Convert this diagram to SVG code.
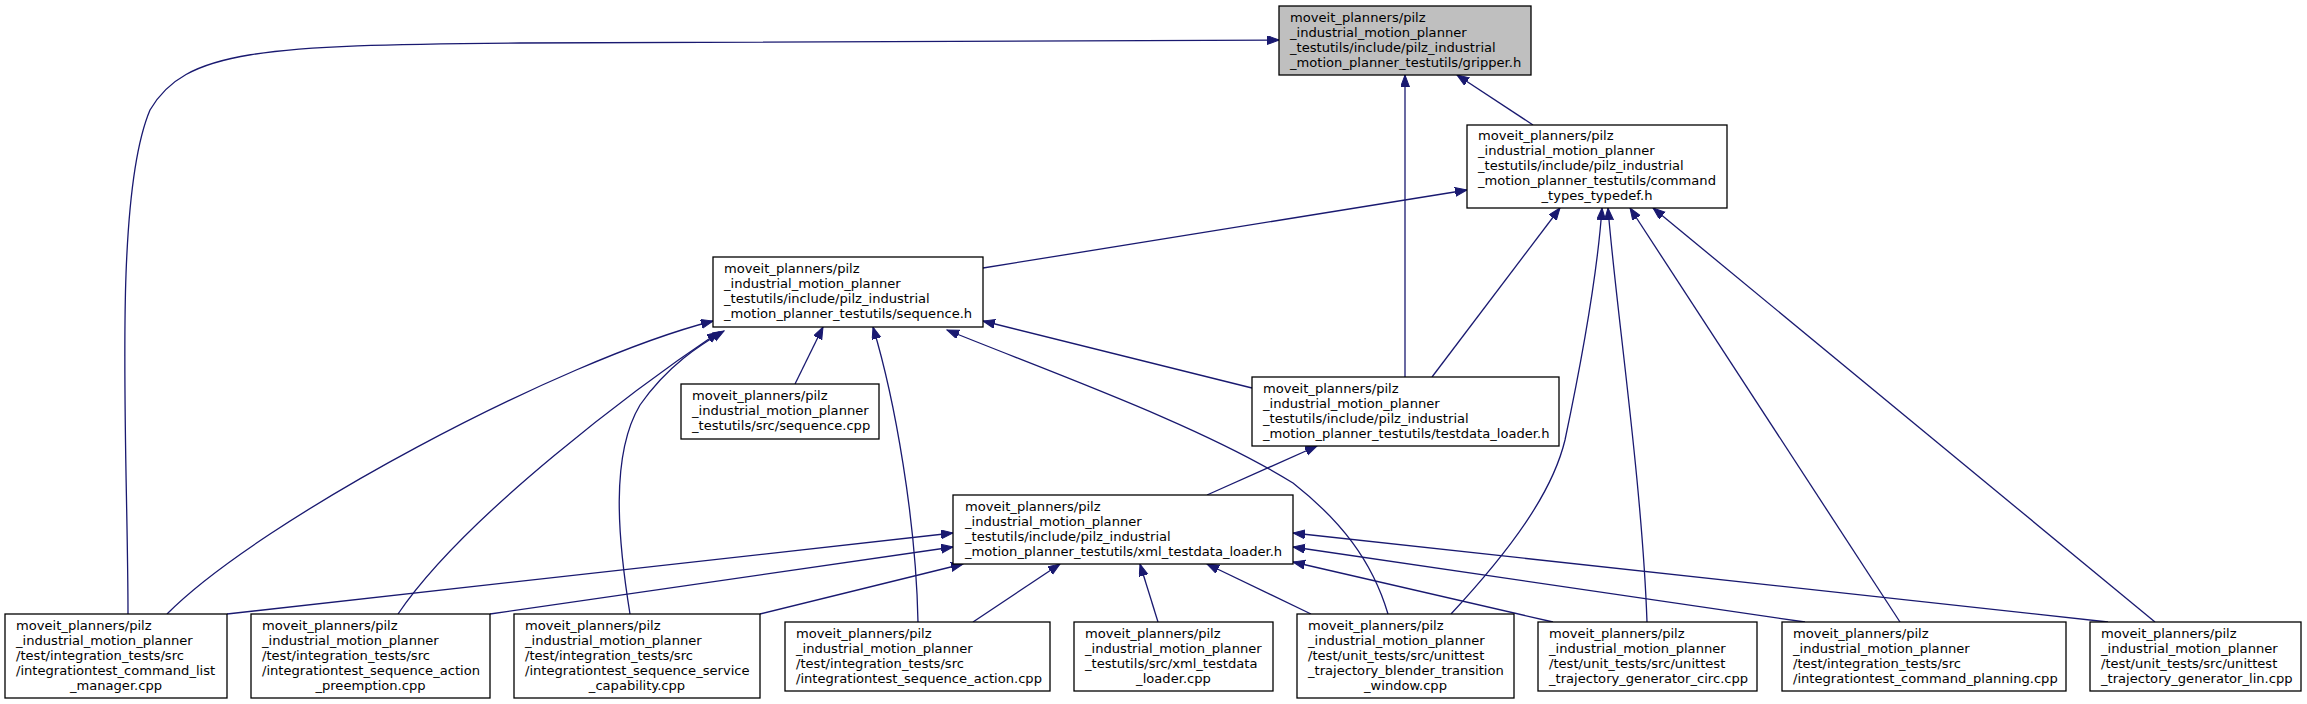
<svg xmlns="http://www.w3.org/2000/svg" width="2307" height="704" viewBox="0 0 2307 704">
<style>
.n rect{fill:#ffffff;stroke:#000000;stroke-width:1.3}
.n.g rect{fill:#bfbfbf}
.n text{font-family:"DejaVu Sans","Liberation Sans",sans-serif;font-size:13.1px;fill:#000000}
.c{text-anchor:middle}
#edges path{fill:none;stroke:#191970;stroke-width:1.3;marker-end:url(#ah)}
</style>
<defs>
<marker id="ah" markerWidth="13" markerHeight="10" refX="12" refY="4.5" orient="auto" markerUnits="userSpaceOnUse"><path d="M0,0 L12,4.5 L0,9 z" fill="#191970" stroke="#191970" stroke-width="1"/></marker>
</defs>
<rect width="2307" height="704" fill="#ffffff"/>
<g id="edges">
<path d="M128,614 C128,450 112,200 150,110 C185,50 260,45 520,43 L1279,40"/>
<path d="M1405,377 L1405,75"/>
<path d="M1533,125 L1457,75"/>
<path d="M983,268 L1467,190"/>
<path d="M1432,377 L1560,208"/>
<path d="M1451,614 C1515,545 1553,490 1565,440 C1585,345 1598,265 1602,208"/>
<path d="M1647,622 C1642,480 1615,300 1608,208"/>
<path d="M1900,622 L1630,208"/>
<path d="M2155,622 L1653,208"/>
<path d="M167,614 C260,520 560,360 713,321"/>
<path d="M398,614 C465,515 640,385 719,332"/>
<path d="M630,614 C618,540 610,455 640,405 C668,365 700,345 724,331"/>
<path d="M795,384 L823,327"/>
<path d="M918,622 C916,520 895,400 873,327"/>
<path d="M1388,614 C1372,560 1340,520 1293,483 C1200,425 1050,372 947,330"/>
<path d="M1252,388 L983,321"/>
<path d="M1207,495 L1317,446"/>
<path d="M227,614 L953,533"/>
<path d="M490,614 L953,547"/>
<path d="M760,614 L963,564"/>
<path d="M973,622 L1060,564"/>
<path d="M1158,622 L1140,564"/>
<path d="M1311,614 L1207,564"/>
<path d="M1553,622 L1293,562"/>
<path d="M1805,622 L1293,547"/>
<path d="M2108,622 L1293,533"/>
</g>
<g id="gripper_h" class="n g">
<rect x="1279" y="6" width="252" height="69"/>
<text x="1290" y="21.5">moveit_planners/pilz</text>
<text x="1290" y="36.5">_industrial_motion_planner</text>
<text x="1290" y="51.5">_testutils/include/pilz_industrial</text>
<text x="1290" y="66.5">_motion_planner_testutils/gripper.h</text>
</g>
<g id="command_types_typedef_h" class="n">
<rect x="1467" y="125" width="260" height="83"/>
<text x="1478" y="140">moveit_planners/pilz</text>
<text x="1478" y="155">_industrial_motion_planner</text>
<text x="1478" y="170">_testutils/include/pilz_industrial</text>
<text x="1478" y="185">_motion_planner_testutils/command</text>
<text x="1597" y="200" class="c">_types_typedef.h</text>
</g>
<g id="sequence_h" class="n">
<rect x="713" y="257" width="270" height="70"/>
<text x="724" y="273">moveit_planners/pilz</text>
<text x="724" y="288">_industrial_motion_planner</text>
<text x="724" y="303">_testutils/include/pilz_industrial</text>
<text x="724" y="318">_motion_planner_testutils/sequence.h</text>
</g>
<g id="sequence_cpp" class="n">
<rect x="681" y="384" width="198" height="55"/>
<text x="692" y="400">moveit_planners/pilz</text>
<text x="692" y="415">_industrial_motion_planner</text>
<text x="692" y="430">_testutils/src/sequence.cpp</text>
</g>
<g id="testdata_loader_h" class="n">
<rect x="1252" y="377" width="307" height="69"/>
<text x="1263" y="392.5">moveit_planners/pilz</text>
<text x="1263" y="407.5">_industrial_motion_planner</text>
<text x="1263" y="422.5">_testutils/include/pilz_industrial</text>
<text x="1263" y="437.5">_motion_planner_testutils/testdata_loader.h</text>
</g>
<g id="xml_testdata_loader_h" class="n">
<rect x="953" y="495" width="340" height="69"/>
<text x="965" y="510.5">moveit_planners/pilz</text>
<text x="965" y="525.5">_industrial_motion_planner</text>
<text x="965" y="540.5">_testutils/include/pilz_industrial</text>
<text x="965" y="555.5">_motion_planner_testutils/xml_testdata_loader.h</text>
</g>
<g id="integrationtest_command_list_manager" class="n">
<rect x="5" y="614" width="222" height="84"/>
<text x="16" y="629.5">moveit_planners/pilz</text>
<text x="16" y="644.5">_industrial_motion_planner</text>
<text x="16" y="659.5">/test/integration_tests/src</text>
<text x="16" y="674.5">/integrationtest_command_list</text>
<text x="116" y="689.5" class="c">_manager.cpp</text>
</g>
<g id="integrationtest_sequence_action_preemption" class="n">
<rect x="251" y="614" width="239" height="84"/>
<text x="262" y="629.5">moveit_planners/pilz</text>
<text x="262" y="644.5">_industrial_motion_planner</text>
<text x="262" y="659.5">/test/integration_tests/src</text>
<text x="262" y="674.5">/integrationtest_sequence_action</text>
<text x="370.5" y="689.5" class="c">_preemption.cpp</text>
</g>
<g id="integrationtest_sequence_service_capability" class="n">
<rect x="514" y="614" width="246" height="84"/>
<text x="525" y="629.5">moveit_planners/pilz</text>
<text x="525" y="644.5">_industrial_motion_planner</text>
<text x="525" y="659.5">/test/integration_tests/src</text>
<text x="525" y="674.5">/integrationtest_sequence_service</text>
<text x="637" y="689.5" class="c">_capability.cpp</text>
</g>
<g id="integrationtest_sequence_action" class="n">
<rect x="785" y="622" width="265" height="69"/>
<text x="796" y="637.5">moveit_planners/pilz</text>
<text x="796" y="652.5">_industrial_motion_planner</text>
<text x="796" y="667.5">/test/integration_tests/src</text>
<text x="796" y="682.5">/integrationtest_sequence_action.cpp</text>
</g>
<g id="xml_testdata_loader_cpp" class="n">
<rect x="1074" y="622" width="199" height="69"/>
<text x="1085" y="637.5">moveit_planners/pilz</text>
<text x="1085" y="652.5">_industrial_motion_planner</text>
<text x="1085" y="667.5">_testutils/src/xml_testdata</text>
<text x="1173.5" y="682.5" class="c">_loader.cpp</text>
</g>
<g id="unittest_trajectory_blender_transition_window" class="n">
<rect x="1297" y="614" width="217" height="84"/>
<text x="1308" y="629.5">moveit_planners/pilz</text>
<text x="1308" y="644.5">_industrial_motion_planner</text>
<text x="1308" y="659.5">/test/unit_tests/src/unittest</text>
<text x="1308" y="674.5">_trajectory_blender_transition</text>
<text x="1405.5" y="689.5" class="c">_window.cpp</text>
</g>
<g id="unittest_trajectory_generator_circ" class="n">
<rect x="1538" y="622" width="219" height="69"/>
<text x="1549" y="637.5">moveit_planners/pilz</text>
<text x="1549" y="652.5">_industrial_motion_planner</text>
<text x="1549" y="667.5">/test/unit_tests/src/unittest</text>
<text x="1549" y="682.5">_trajectory_generator_circ.cpp</text>
</g>
<g id="integrationtest_command_planning" class="n">
<rect x="1782" y="622" width="284" height="69"/>
<text x="1793" y="637.5">moveit_planners/pilz</text>
<text x="1793" y="652.5">_industrial_motion_planner</text>
<text x="1793" y="667.5">/test/integration_tests/src</text>
<text x="1793" y="682.5">/integrationtest_command_planning.cpp</text>
</g>
<g id="unittest_trajectory_generator_lin" class="n">
<rect x="2090" y="622" width="211" height="69"/>
<text x="2101" y="637.5">moveit_planners/pilz</text>
<text x="2101" y="652.5">_industrial_motion_planner</text>
<text x="2101" y="667.5">/test/unit_tests/src/unittest</text>
<text x="2101" y="682.5">_trajectory_generator_lin.cpp</text>
</g>
</svg>
